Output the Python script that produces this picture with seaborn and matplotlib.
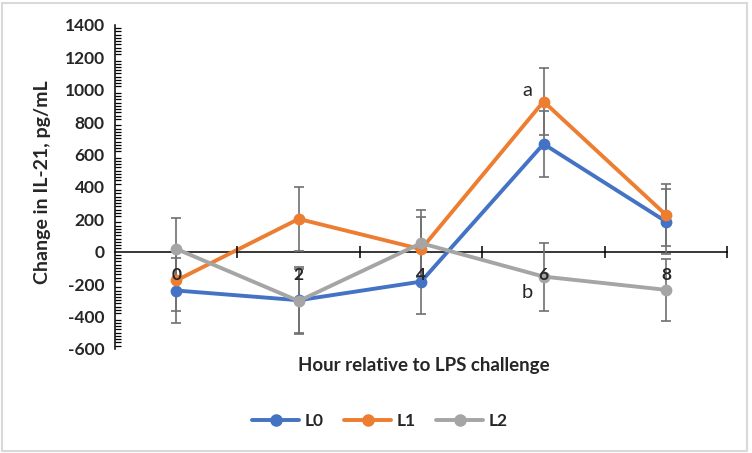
"""IL-21 change after LPS challenge, by group."""

import matplotlib.pyplot as plt
import pandas as pd
import seaborn as sns
from matplotlib.lines import Line2D
from matplotlib.patches import Rectangle
from matplotlib.ticker import FixedLocator, MultipleLocator

sns.set_style("white")
plt.rcParams["font.family"] = ["Lato", "DejaVu Sans"]
plt.rcParams["axes.unicode_minus"] = False

# Values
hours = [0, 2, 4, 6, 8]
groups = ["L0", "L1", "L2"]
l0_mean = [-240, -300, -185, 665, 186]
l1_mean = [-178, 202, 15, 927, 227]
l2_mean = [17, -305, 52, -154, -236]
l0_err = [200, 208, 201, 204, 200]
l1_err = [190, 196, 198, 204, 191]
l2_err = [190, 195, 206, 210, 191]
colors = ["#4472C4", "#ED7D31", "#A5A5A5"]

means = {"L0": l0_mean, "L1": l1_mean, "L2": l2_mean}
errs = {"L0": l0_err, "L1": l1_err, "L2": l2_err}


def main() -> None:
    df = pd.DataFrame(
        [
            {"hour": h, "group": g, "value": means[g][i], "err": errs[g][i]}
            for g in groups
            for i, h in enumerate(hours)
        ]
    )

    fig = plt.figure(figsize=(7.52, 4.53), dpi=100)
    ax = fig.add_axes([0.153, 0.230, 0.814, 0.715])

    # error bars sit under the lines
    for g in groups:
        sub = df[df["group"] == g]
        ax.errorbar(
            sub["hour"], sub["value"], yerr=sub["err"], fmt="none",
            ecolor="#6f6f6f", elinewidth=1.2, capsize=3.5, capthick=1.2,
            zorder=2,
        )

    sns.lineplot(
        data=df, x="hour", y="value", hue="group", palette=colors,
        marker="o", markersize=8.5, markeredgewidth=0, linewidth=2.8,
        legend=False, ax=ax, zorder=3,
    )

    ax.set_xlim(-1, 9)
    ax.set_ylim(-600, 1400)

    # y axis: majors every 200, minors every 20
    ax.yaxis.set_major_locator(MultipleLocator(200))
    ax.yaxis.set_minor_locator(MultipleLocator(20))
    ax.tick_params(axis="y", which="major", direction="inout", length=9,
                   width=1.1, color="black", labelsize=12.5, pad=3)
    ax.tick_params(axis="y", which="minor", direction="in", length=4,
                   width=0.9, color="black", left=True)
    for lab in ax.get_yticklabels():
        lab.set_fontweight("bold")

    # x axis crosses at 0, ticks between categories
    for side in ["top", "right"]:
        ax.spines[side].set_visible(False)
    ax.spines["bottom"].set_position(("data", 0))
    ax.spines["bottom"].set_zorder(1)
    for side in ["left", "bottom"]:
        ax.spines[side].set_color("black")
        ax.spines[side].set_linewidth(1.1)
    ax.xaxis.set_major_locator(FixedLocator([1, 3, 5, 7, 9]))
    ax.xaxis.set_minor_locator(FixedLocator(hours))
    ax.xaxis.set_major_formatter(plt.NullFormatter())
    ax.set_xticks(hours, [str(h) for h in hours], minor=True)
    ax.tick_params(axis="x", which="major", direction="inout", length=9,
                   width=1.1, color="black", bottom=True)
    ax.tick_params(axis="x", which="minor", length=0, labelsize=12.5,
                   pad=11, bottom=True)
    for lab in ax.get_xticklabels(minor=True):
        lab.set_fontweight("bold")
    # category labels are printed over the series, as in the original
    ax.xaxis.set_zorder(5)

    ax.set_xlabel("")
    ax.set_ylabel("")
    fig.text(0.564, 0.194, "Hour relative to LPS challenge", ha="center",
             va="center", fontsize=13.5, fontweight="bold")
    fig.text(0.056, 0.598, "Change in IL-21, pg/mL", ha="center",
             va="center", rotation=90, fontsize=14, fontweight="bold")

    ax.text(5.74, 995, "a", ha="center", va="center", fontsize=14.5)
    ax.text(5.74, -254, "b", ha="center", va="center", fontsize=14.5)

    handles = [
        Line2D([], [], color=c, marker="o", markersize=8, linewidth=2.8)
        for c in colors
    ]
    fig.legend(handles, groups, loc="center", ncol=3,
               bbox_to_anchor=(0.505, 0.07), frameon=False,
               handlelength=2.7, columnspacing=1.2, handletextpad=0.3,
               prop={"size": 12.5, "weight": "bold"})

    fig.patches.append(Rectangle((0.003, 0.004), 0.991, 0.99,
                                 transform=fig.transFigure, fill=False,
                                 edgecolor="#d9d9d9", linewidth=1.5))

    fig.savefig("out.png", dpi=100)


if __name__ == "__main__":
    main()
